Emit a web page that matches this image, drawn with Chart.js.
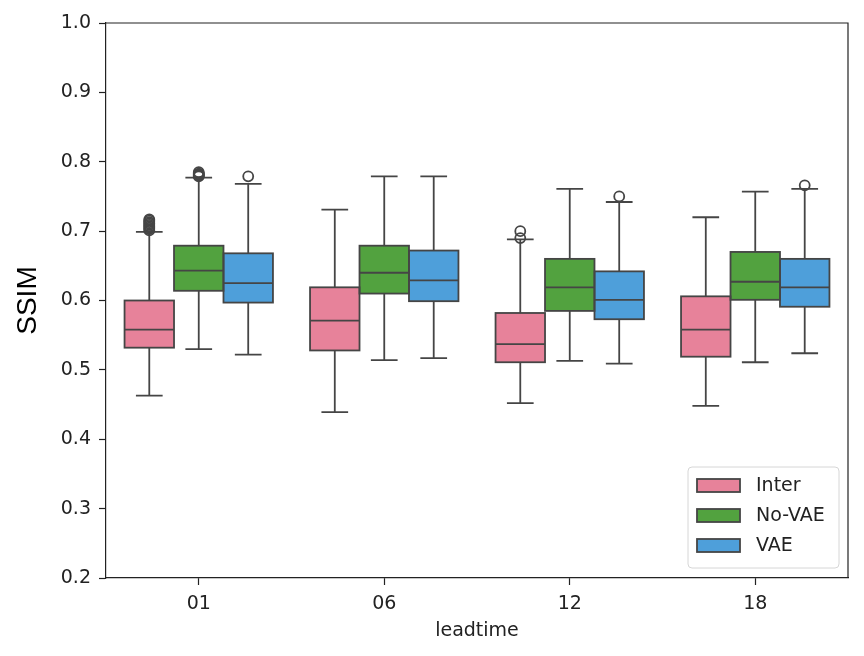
<!DOCTYPE html>
<html>
<head>
<meta charset="utf-8">
<script src="https://cdn.jsdelivr.net/npm/chart.js@4.4.1/dist/chart.umd.min.js"></script>
<style>
  html, body { margin: 0; padding: 0; background: #fff; }
  #wrap { width: 864px; height: 656px; }
</style>
</head>
<body>
<div id="wrap"><canvas id="box"></canvas></div>
<script>
// leadtimes on the x axis
var leadtimes = ['01', '06', '12', '18'];
var seriesNames = ['Inter', 'No-VAE', 'VAE'];
var yTicks = [0.2, 0.3, 0.4, 0.5, 0.6, 0.7, 0.8, 0.9, 1.0];

// box stats, one value per leadtime
var interQ1   = [0.532, 0.528, 0.511, 0.519];
var interMed  = [0.558, 0.571, 0.537, 0.558];
var interQ3   = [0.600, 0.619, 0.582, 0.606];
var interLo   = [0.463, 0.439, 0.452, 0.448];
var interHi   = [0.699, 0.731, 0.688, 0.720];
var interOut  = [[0.701, 0.703, 0.705, 0.707, 0.709, 0.711, 0.713, 0.715, 0.717], [], [0.690, 0.700], []];

var novaeQ1   = [0.614, 0.610, 0.585, 0.601];
var novaeMed  = [0.643, 0.640, 0.619, 0.627];
var novaeQ3   = [0.679, 0.679, 0.660, 0.670];
var novaeLo   = [0.530, 0.514, 0.513, 0.511];
var novaeHi   = [0.777, 0.779, 0.761, 0.757];
var novaeOut  = [[0.779, 0.780, 0.781, 0.782, 0.783, 0.785], [], [], []];

var vaeQ1     = [0.597, 0.599, 0.573, 0.591];
var vaeMed    = [0.625, 0.629, 0.601, 0.619];
var vaeQ3     = [0.668, 0.672, 0.642, 0.660];
var vaeLo     = [0.522, 0.517, 0.509, 0.524];
var vaeHi     = [0.768, 0.779, 0.742, 0.761];
var vaeOut    = [[0.779], [], [0.750], [0.766]];

var colors = ['#E7829A', '#52A23F', '#4E9FDA'];
var edge = '#454545';
var lw = 1.8;
var font = '"DejaVu Sans", sans-serif';

var stats = [
  { q1: interQ1, med: interMed, q3: interQ3, lo: interLo, hi: interHi, out: interOut },
  { q1: novaeQ1, med: novaeMed, q3: novaeQ3, lo: novaeLo, hi: novaeHi, out: novaeOut },
  { q1: vaeQ1, med: vaeMed, q3: vaeQ3, lo: vaeLo, hi: vaeHi, out: vaeOut }
];

// box body = floating bar from q1 to q3
var datasets = stats.map(function (s, i) {
  return {
    label: seriesNames[i],
    data: s.q1.map(function (v, k) { return [v, s.q3[k]]; }),
    backgroundColor: colors[i],
    borderWidth: 0,
    categoryPercentage: 0.8,
    barPercentage: 1.0
  };
});

// box outlines, whiskers, caps, medians, outliers, frame and legend
var boxExtras = {
  id: 'boxExtras',
  afterDatasetsDraw: function (chart) {
    var ctx = chart.ctx, y = chart.scales.y;
    ctx.save();
    ctx.strokeStyle = edge;
    ctx.lineWidth = lw;
    stats.forEach(function (s, i) {
      chart.getDatasetMeta(i).data.forEach(function (bar, k) {
        var x = bar.x, w = bar.width, cap = w * 0.27;
        var yq1 = y.getPixelForValue(s.q1[k]), yq3 = y.getPixelForValue(s.q3[k]);
        ctx.strokeRect(x - w / 2, yq3, w, yq1 - yq3);
        ctx.beginPath();
        ctx.moveTo(x, yq3);
        ctx.lineTo(x, y.getPixelForValue(s.hi[k]));
        ctx.moveTo(x, yq1);
        ctx.lineTo(x, y.getPixelForValue(s.lo[k]));
        ctx.moveTo(x - cap, y.getPixelForValue(s.hi[k]));
        ctx.lineTo(x + cap, y.getPixelForValue(s.hi[k]));
        ctx.moveTo(x - cap, y.getPixelForValue(s.lo[k]));
        ctx.lineTo(x + cap, y.getPixelForValue(s.lo[k]));
        ctx.moveTo(x - w / 2, y.getPixelForValue(s.med[k]));
        ctx.lineTo(x + w / 2, y.getPixelForValue(s.med[k]));
        ctx.stroke();
        s.out[k].forEach(function (v) {
          ctx.beginPath();
          ctx.arc(x, y.getPixelForValue(v), 5, 0, Math.PI * 2);
          ctx.stroke();
        });
      });
    });
    ctx.restore();
  },
  afterDraw: function (chart) {
    var ctx = chart.ctx, a = chart.chartArea;
    ctx.save();
    ctx.strokeStyle = '#222';
    ctx.lineWidth = 1.2;
    ctx.beginPath();
    ctx.moveTo(a.left, a.top);
    ctx.lineTo(a.right, a.top);
    ctx.lineTo(a.right, a.bottom);
    ctx.stroke();

    // legend, lower right inside the axes
    var lx = a.right - 160, ly = a.bottom - 111, w = 151, h = 101;
    ctx.fillStyle = 'rgba(255,255,255,0.85)';
    ctx.strokeStyle = '#d6d6d6';
    ctx.lineWidth = 1;
    ctx.beginPath();
    ctx.roundRect(lx, ly, w, h, 4);
    ctx.fill();
    ctx.stroke();
    ctx.font = '19px ' + font;
    ctx.textBaseline = 'middle';
    seriesNames.forEach(function (name, i) {
      var cy = ly + 18.5 + i * 30;
      ctx.fillStyle = colors[i];
      ctx.fillRect(lx + 9, cy - 6.5, 43, 13);
      ctx.strokeStyle = edge;
      ctx.lineWidth = lw;
      ctx.strokeRect(lx + 9, cy - 6.5, 43, 13);
      ctx.fillStyle = '#222';
      ctx.fillText(name, lx + 68, cy + 1);
    });
    ctx.restore();
  }
};

new Chart(document.getElementById('box'), {
  type: 'bar',
  data: { labels: leadtimes, datasets: datasets },
  plugins: [boxExtras],
  options: {
    responsive: true,
    maintainAspectRatio: false,
    animation: false,
    layout: { padding: { left: 0, right: 16, top: 23, bottom: 0 } },
    plugins: { legend: { display: false }, tooltip: { enabled: false } },
    scales: {
      x: {
        grid: { display: true, drawOnChartArea: false, offset: false, tickLength: 7, tickColor: '#222', tickWidth: 1.2 },
        border: { color: '#222', width: 1.2 },
        ticks: { color: '#222', font: { family: font, size: 19 }, padding: 8 },
        title: { display: true, text: 'leadtime', color: '#222', font: { family: font, size: 19 }, padding: { top: 0, bottom: 14 } },
        afterFit: function (s) { s.height = 78; }
      },
      y: {
        min: 0.2,
        max: 1.0,
        afterBuildTicks: function (s) { s.ticks = yTicks.map(function (v) { return { value: v }; }); },
        grid: { display: true, drawOnChartArea: false, tickLength: 7, tickColor: '#222', tickWidth: 1.2 },
        border: { color: '#222', width: 1.2 },
        ticks: { color: '#222', font: { family: font, size: 19 }, padding: 8,
                 callback: function (v) { return Number(v).toFixed(1); } },
        title: { display: true, text: 'SSIM', color: '#000', font: { family: '"Liberation Sans", Arial, sans-serif', size: 28 }, padding: { top: 11, bottom: 0 } },
        afterFit: function (s) { s.width = 106; }
      }
    }
  }
});
</script>
</body>
</html>
